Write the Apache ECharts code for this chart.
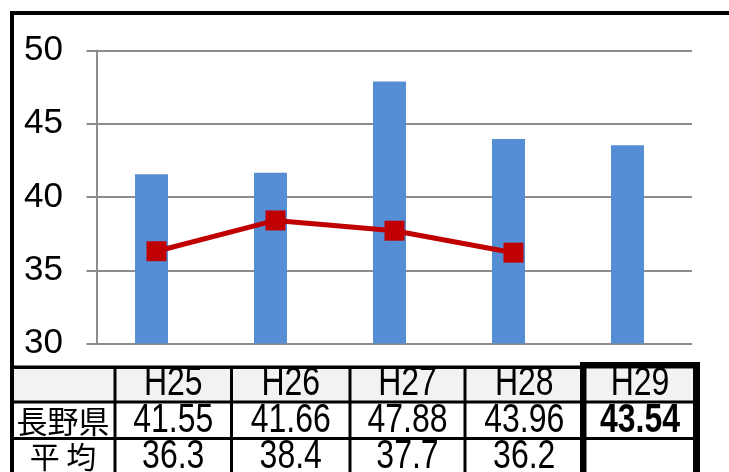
<!DOCTYPE html>
<html>
<head>
<meta charset="utf-8">
<script src="https://cdn.jsdelivr.net/npm/echarts@6/dist/echarts.min.js"></script>
<style>
  html, body { margin: 0; padding: 0; background: #ffffff; }
  #chart { width: 729px; height: 472px; }
</style>
</head>
<body>
<div id="chart"></div>
<script>
// Fiscal years (Heisei) and the two series
const categories = ['H25', 'H26', 'H27', 'H28', 'H29'];
const naganoValues = [41.55, 41.66, 47.88, 43.96, 43.54];
const averageValues = [36.3, 38.4, 37.7, 36.2, null];
const naganoName = '長野県';
const averageName = '平均';
const averageRowLabel = '平 均';
const yMin = 30, yMax = 50, yStep = 5;

const sans = '"Liberation Sans", Arial, sans-serif';
const cjk = '"Noto Sans CJK JP", "Noto Sans CJK SC", sans-serif';
const NARROW = 0.8; // horizontal squeeze for a narrow-face look

const chart = echarts.init(document.getElementById('chart'), null, { renderer: 'canvas' });

// ---- data table under the plot ----
const colEdges = [115, 231.5, 350, 465, 583.5, 696.5];
const rowCenters = [384, 421, 457];
const graphics = [];

function bar(x, y, w, h, color) {
  graphics.push({ type: 'rect', silent: true, shape: { x: x, y: y, width: w, height: h }, style: { fill: color || '#000' }, z: 100 });
}
function txt(x, y, text, font, weight, sx) {
  graphics.push({
    type: 'text', silent: true, x: x, y: y, z: 110, scaleX: sx || 1,
    style: { text: text, fill: '#000', font: (weight || 'normal') + ' ' + font, textAlign: 'center', textVerticalAlign: 'middle' }
  });
}

// outer frame
bar(10, 11, 719, 4);
bar(10, 11, 4, 461);
// header row shading
graphics.push({ type: 'rect', silent: true, shape: { x: 14, y: 369, width: 680, height: 32 }, style: { fill: '#f2f2f2' }, z: 90 });
// table rules
bar(12, 365.5, 570, 3.5);
bar(12, 400.5, 684, 3);
bar(12, 437, 684, 3);
[115, 231.5, 350, 465].forEach(function (x) { bar(x - 1.5, 366, 3, 110); });
// highlighted latest-year column
bar(580, 362, 120, 6.5);
bar(580, 362, 6.5, 115);
bar(693, 362, 7, 115);

// header labels
categories.forEach(function (c, i) {
  txt((colEdges[i] + colEdges[i + 1]) / 2, rowCenters[0], c, '40px ' + sans, 'normal', NARROW);
});
// row labels
txt(63, rowCenters[1], naganoName, '31px ' + cjk);
txt(63, rowCenters[2], averageRowLabel, '30px ' + cjk);
// values
naganoValues.forEach(function (v, i) {
  const last = i === naganoValues.length - 1;
  txt((colEdges[i] + colEdges[i + 1]) / 2, rowCenters[1], v.toFixed(2), '40px ' + sans, last ? 'bold' : 'normal', NARROW);
});
averageValues.forEach(function (v, i) {
  if (v == null) return;
  txt((colEdges[i] + colEdges[i + 1]) / 2, rowCenters[2], v.toFixed(1), '40px ' + sans, 'normal', NARROW);
});

const option = {
  animation: false,
  backgroundColor: '#ffffff',
  grid: [
    { left: 97, right: 37, top: 50.5, height: 293 },
    { left: 92, right: 42, top: 50.5, height: 293 }
  ],
  xAxis: [
    { type: 'category', gridIndex: 0, data: categories, axisLine: { show: false }, axisTick: { show: false }, axisLabel: { show: false } },
    { type: 'category', gridIndex: 1, data: categories, show: false }
  ],
  yAxis: [
    {
      type: 'value', gridIndex: 0, min: yMin, max: yMax, interval: yStep,
      axisLine: { show: true, lineStyle: { color: '#8c8c8c', width: 2 } },
      axisTick: { show: true, length: 10.5, lineStyle: { color: '#8c8c8c', width: 2 } },
      splitLine: { show: true, lineStyle: { color: '#8c8c8c', width: 2 } },
      axisLabel: { color: '#000', fontFamily: sans, fontSize: 35, margin: 34 }
    },
    { type: 'value', gridIndex: 1, min: yMin, max: yMax, interval: yStep, show: false, splitLine: { show: false } }
  ],
  series: [
    {
      name: naganoName, type: 'bar', xAxisIndex: 1, yAxisIndex: 1,
      data: naganoValues, barWidth: 33,
      itemStyle: { color: '#558ed5' }, z: 2
    },
    {
      name: averageName, type: 'line', xAxisIndex: 0, yAxisIndex: 0,
      data: averageValues, symbol: 'rect', symbolSize: 20,
      lineStyle: { color: '#c00000', width: 5 },
      itemStyle: { color: '#c00000' }, z: 5
    }
  ],
  graphic: graphics
};

chart.setOption(option);
</script>
</body>
</html>
